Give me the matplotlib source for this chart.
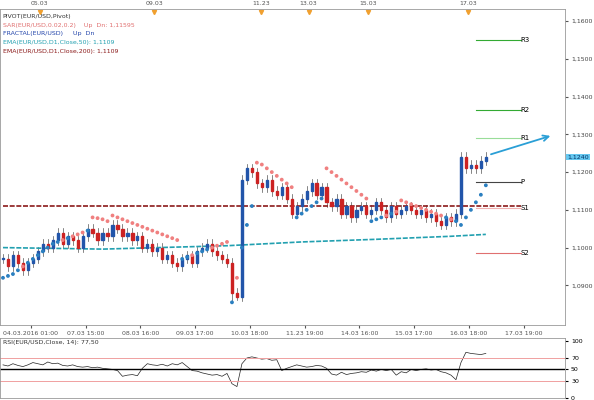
import matplotlib
matplotlib.use("Agg")
import matplotlib.pyplot as plt
import numpy as np
from matplotlib.patches import Rectangle, FancyArrowPatch

closes = [1.097,1.095,1.098,1.096,1.094,1.096,
 1.097,1.099,1.101,1.100,1.102,1.104,1.101,1.103,1.102,1.100,1.103,1.105,1.104,1.102,
 1.104,1.103,1.106,1.105,1.103,1.104,1.102,1.103,1.100,1.101,
 1.099,1.100,1.097,1.098,1.096,1.095,1.097,1.098,1.096,1.099,
 1.100,1.101,1.099,1.098,1.097,1.096,
 1.088,1.087,1.118,1.121,
 1.120,1.117,1.116,1.118,1.115,1.114,1.116,1.113,1.109,1.111,
 1.113,1.115,1.117,1.114,1.116,1.112,
 1.111,1.113,1.109,1.111,1.108,1.110,
 1.111,1.109,1.110,1.112,1.110,1.108,1.111,1.109,1.110,1.111,1.110,1.109,1.110,1.108,1.109,1.107,1.106,1.108,1.107,1.109,
 1.124,1.121,1.122,1.121,1.123,1.124]
lows_spike = {46: 1.0855, 47: 1.0860}
sar_vals = [1.092,1.0925,1.093,1.094,1.095,1.096,1.097,1.098,1.099,1.100,1.101,1.1015,1.102,1.1025,1.103,1.1035,1.104,1.1045,
 1.108,1.1078,1.1075,1.107,1.1085,1.108,1.1075,1.107,1.1065,1.106,1.1055,1.105,1.1045,1.104,1.1035,1.103,1.1025,1.102,
 1.097,1.0975,1.098,1.0985,1.099,1.0995,1.100,1.1005,1.101,1.1015,
 1.0855,1.092,1.100,1.106,1.111,
 1.1225,1.122,1.121,1.120,1.119,1.118,1.117,1.116,
 1.108,1.109,1.110,1.111,1.112,1.113,
 1.121,1.120,1.119,1.118,1.117,1.116,1.115,1.114,1.113,
 1.107,1.1075,1.108,1.1085,1.109,1.1095,
 1.1125,1.112,1.1115,1.111,1.1105,1.110,1.1095,1.109,1.1085,1.108,1.1075,1.107,
 1.106,1.108,1.110,1.112,1.114,1.1165]
rsi = [58,56,60,57,55,58,62,60,58,63,60,61,57,56,58,55,54,55,53,54,
 52,51,50,48,38,40,41,39,52,60,58,57,59,56,60,58,62,55,48,47,
 44,42,40,41,38,43,25,20,60,70,72,70,68,69,66,67,48,52,55,58,
 56,54,55,57,56,52,42,40,45,41,43,44,46,45,49,47,50,48,50,40,
 46,44,50,48,50,51,49,50,46,44,40,32,62,80,78,77,76,78]
ema50 = [1.1109, 1.1109]
ema200 = [1.1000, 1.0996, 1.1005, 1.1015, 1.1022, 1.1030, 1.1035]
ema200_x = [0, 20, 45, 60, 75, 90, 97]
pivots = {"R3": 1.1550, "R2": 1.1365, "R1": 1.1290, "P": 1.1175, "S1": 1.1105, "S2": 1.0985}
piv_colors = {"R3": "#33aa33", "R2": "#33aa33", "R1": "#99dd99", "P": "#444444", "S1": "#f0b0b0", "S2": "#e07070"}
bottom_ticks = ["04.03.2016 01:00","07.03 15:00","08.03 16:00","09.03 17:00","10.03 18:00",
                "11.23 19:00","14.03 16:00","15.03 17:00","16.03 18:00","17.03 19:00"]
top_ticks = ["05.03","09.03","11.23","13.03","15.03","17.03"]

fig = plt.figure(figsize=(5.94,4.0), dpi=100)
ax = fig.add_axes([0.0, 0.1875, 0.952, 0.79])
ax2 = fig.add_axes([0.0, 0.005, 0.952, 0.15])
n = len(closes)
x = np.arange(n)
opens = [closes[0]] + closes[:-1]
for i in range(n):
    o, c = opens[i], closes[i]
    col = "#2255aa" if c >= o else "#cc2222"
    hi = max(o, c) + 0.0012
    lo = lows_spike.get(i, min(o, c) - 0.0012)
    ax.plot([i, i], [lo, hi], color="#555555", lw=0.5, zorder=2)
    ax.add_patch(Rectangle((i-0.22, min(o, c)), 0.44, max(abs(c-o), 0.0003), color=col, zorder=3))
sar_c = ["#f08080" if s > c else "#2a7fc0" for s, c in zip(sar_vals, closes)]
ax.scatter(x, sar_vals, s=3, c=sar_c, zorder=4)
ax.plot([0, n+6], ema50, color="#8b1a1a", lw=1.2, ls=(0,(3,1)))
ax.plot(ema200_x, ema200, color="#22a0b0", lw=1.2, ls=(0,(3,1)))
for k, v in pivots.items():
    ax.plot([95, 104], [v, v], color=piv_colors[k], lw=0.8)
    ax.text(104, v, k, fontsize=5, va="center")
ax.add_patch(FancyArrowPatch((97.5, 1.1245), (110.5, 1.1298), arrowstyle="->", mutation_scale=10, color="#2a9fd6", lw=1.3))
ax.set_xlim(-0.6, 113)
ax.set_ylim(1.0795, 1.1632)
ax.yaxis.tick_right()
ax.set_yticks([1.09,1.10,1.11,1.12,1.13,1.14,1.15,1.16])
ax.set_yticklabels([f"{v:.4f}".replace(".", ",") for v in [1.09,1.10,1.11,1.12,1.13,1.14,1.15,1.16]], fontsize=4.5, color="#444")
ax.text(113.3, 1.1240, "1,1240", fontsize=4.5, va="center", color="#003366",
        bbox=dict(boxstyle="square,pad=0.15", fc="#66c8f0", ec="none"), clip_on=False)
bt = [5.6 + 11*i for i in range(len(bottom_ticks))]
ax.set_xticks(bt)
ax.set_xticklabels(bottom_ticks, fontsize=4.5, color="#555")
ax.tick_params(length=2, color="#555", pad=2)
tt = [7.4, 30.4, 51.8, 61.4, 73.4, 93.4]
for t, l in zip(tt, top_ticks):
    ax.text(t, 1.1640, l, fontsize=4.5, ha="center", va="bottom", color="#555", clip_on=False)
    ax.plot(t, 1.1625, marker="v", color="#f0a030", ms=3, clip_on=False)
leg = [("PIVOT(EUR/USD,Pivot)", "#333"), ("SAR(EUR/USD,0.02,0.2)    Up  Dn: 1,11595", "#e07070"),
       ("FRACTAL(EUR/USD)     Up  Dn", "#2244aa"), ("EMA(EUR/USD,D1,Close,50): 1,1109", "#22a0b0"),
       ("EMA(EUR/USD,D1,Close,200): 1,1109", "#8b1a1a")]
for j, (t, c) in enumerate(leg):
    ax.text(0.005, 0.985 - j*0.028, t, transform=ax.transAxes, fontsize=4.5, color=c, va="top")
for sp in ax.spines.values():
    sp.set_color("#999"); sp.set_linewidth(0.6)

ax2.plot(x, rsi, color="#222", lw=0.5)
ax2.axhline(50, color="black", lw=1)
ax2.axhline(70, color="#f0a0a0", lw=0.7)
ax2.axhline(30, color="#f0a0a0", lw=0.7)
ax2.set_xlim(-0.6, 113)
ax2.set_ylim(0, 105)
ax2.yaxis.tick_right()
ax2.set_yticks([0, 30, 50, 70, 100])
ax2.set_yticklabels(["0", "30", "50", "70", "100"], fontsize=4.5)
ax2.set_xticks([])
ax2.tick_params(length=2, pad=2)
ax2.text(0.005, 0.97, "RSI(EUR/USD,Close, 14): 77,50", transform=ax2.transAxes, fontsize=4.5, va="top", color="#333")
for sp in ax2.spines.values():
    sp.set_color("#999"); sp.set_linewidth(0.6)
fig.savefig("out.png", dpi=100)
